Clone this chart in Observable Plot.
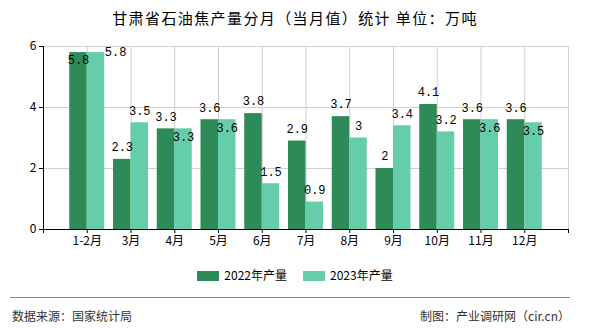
<!DOCTYPE html>
<html><head><meta charset="utf-8">
<script src="https://cdn.jsdelivr.net/npm/d3@7"></script>
<script src="https://cdn.jsdelivr.net/npm/@observablehq/plot@0.6"></script>
<style>
body{margin:0;width:590px;height:330px;position:relative;background:#fff;font-family:"Noto Sans CJK SC","Noto Sans",sans-serif;overflow:hidden}
#title{position:absolute;top:0;left:0;width:590px;height:36px;line-height:36px;text-align:center;font-size:15px;letter-spacing:1.4px;color:#000}
#chart{position:absolute;top:35px;left:0}
#legend{position:absolute;top:268px;left:0;width:590px;display:flex;justify-content:center;gap:16px;font-size:12px;color:#000;line-height:14px}
#legend span.sw{display:inline-block;width:22px;height:10px;margin-right:5px;vertical-align:-1px}
#rule{position:absolute;top:297px;left:10px;width:560px;border-top:1px solid #888}
.foot{position:absolute;top:307px;font-size:12px;color:#333;line-height:18px}
</style></head>
<body>
<div id="title">甘肃省石油焦产量分月（当月值）统计 单位：万吨</div>
<div id="chart"></div>
<div id="legend"></div>
<div id="rule"></div>
<div class="foot" style="left:12px">数据来源：国家统计局</div>
<div class="foot" style="right:20px">制图：产业调研网（cir.cn）</div>
<script>
const months = ["1-2月","3月","4月","5月","6月","7月","8月","9月","10月","11月","12月"];
const v2022 = [5.8,2.3,3.3,3.6,3.8,2.9,3.7,2,4.1,3.6,3.6];
const v2023 = [5.8,3.5,3.3,3.6,1.5,0.9,3,3.4,3.2,3.6,3.5];
const series = ["2022年产量","2023年产量"];
const colors = ["#2e8b57","#66cdaa"];
const yTicks = [0,2,4,6];

// build rows; label placement mimics overlap handling of the original
const rows = [];
months.forEach((m,i)=>{
  const a=v2022[i], b=v2023[i];
  const close = Math.abs(a-b) < 0.3;
  const nearTop = close && a >= 5.5;
  rows.push({m, idx:i+1, s:series[0], v:a, side:-1, place: nearTop ? "inside" : "above"});
  rows.push({m, idx:i+1, s:series[1], v:b, side:1, place: nearTop ? "shift" : (close ? "inside" : "above")});
});
const bw = 0.4;
const lbl = {fontFamily:"'Liberation Mono','DejaVu Sans Mono',monospace", fontSize:12, fill:"#000"};

const chart = Plot.plot({
  width:590, height:220,
  marginLeft:43, marginRight:22, marginTop:11, marginBottom:26,
  style:{fontFamily:"'Noto Sans CJK SC',sans-serif", fontSize:"12px", color:"#000", background:"transparent"},
  x:{type:"linear", domain:[0,12]},
  y:{domain:[0,6]},
  color:{domain:series, range:colors},
  marks:[
    Plot.gridX(d3.range(0,13), {stroke:"#cfcfcf", strokeOpacity:1}),
    Plot.gridY(yTicks, {stroke:"#cfcfcf", strokeOpacity:1}),
    Plot.rectY(rows, {x1:d=>d.idx + (d.side<0 ? -bw : 0), x2:d=>d.idx + (d.side<0 ? 0 : bw), y1:0, y2:"v", fill:"s"}),
    Plot.text(rows.filter(d=>d.place==="above"), {x:d=>d.idx + d.side*bw/2, y:"v", text:d=>String(d.v), dy:-12, ...lbl}),
    Plot.text(rows.filter(d=>d.place==="inside"), {x:d=>d.idx + d.side*bw/2, y:"v", text:d=>String(d.v), dy:8, ...lbl}),
    Plot.text(rows.filter(d=>d.place==="shift"), {x:d=>d.idx + bw, y:"v", text:d=>String(d.v), dx:0, dy:0, textAnchor:"start", ...lbl}),
    Plot.ruleX([0], {stroke:"#000"}),
    Plot.ruleY([0], {stroke:"#000"}),
    Plot.axisX(d3.range(0,13), {tickFormat:i=>months[i-1] ?? "", tickSize:4, tickPadding:3, stroke:"#000", fontSize:12}),
    Plot.axisY(yTicks, {tickSize:4, tickPadding:3, stroke:"#000", fontSize:12, label:null})
  ]
});
document.getElementById("chart").appendChild(chart);

const legend = document.getElementById("legend");
series.forEach((s,i)=>{
  const item = document.createElement("div");
  item.innerHTML = `<span class="sw" style="background:${colors[i]}"></span>${s}`;
  legend.appendChild(item);
});
</script>
</body></html>
